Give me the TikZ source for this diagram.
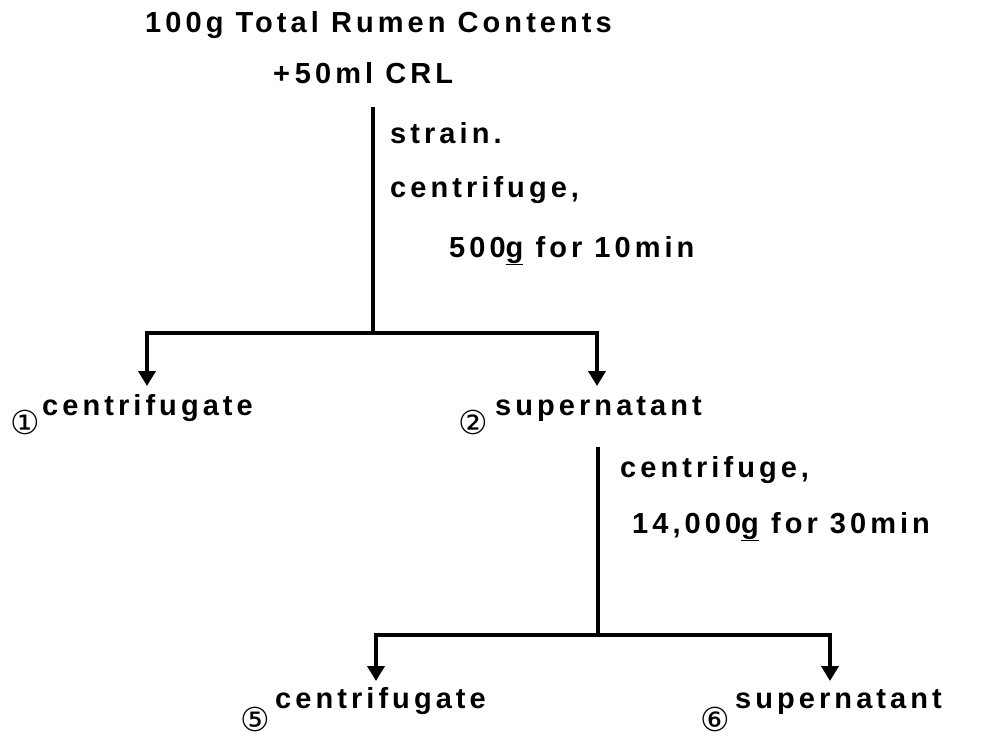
\documentclass[tikz,border=0pt]{standalone}
\usepackage{fontspec}
\setmainfont{Liberation Sans}
\newfontfamily\flowfont[LetterSpace=14]{Liberation Sans}
\newfontfamily\circfont{DejaVu Sans}
\usetikzlibrary{arrows.meta,positioning}
\tikzset{
	steptext/.style={
		anchor=base west, inner sep=0pt,
		font=\flowfont\bfseries\fontsize{29}{32}\selectfont
	},
	fraction/.style={
		inner sep=0pt, anchor=base,
		font=\circfont\fontsize{33}{36}\selectfont
	},
}

\begin{document}
\begin{tikzpicture}[
		x=1pt, y=-1pt,
		flow/.style={line width=4pt, line join=miter},
		down/.style={flow, -{Triangle[width=17pt,length=15pt]}}
		]
		\useasboundingbox (0,0) rectangle (983,739);
		
		% starting material
		\node[steptext] (sample) at (145,32) {100g Total Rumen Contents};
		\node[steptext] (crl) at (273,83) {+\,50ml CRL};
		
		% first spin
		\node[steptext] (strain) at (390,143) {strain.};
		\node[steptext] (spinA) at (390,197) {centrifuge,};
		\node[steptext] (spinAval) at (449,257) {500\underline{g} for 10min};
		
		\node[fraction] (n1) at (25,434) {①};
		\node[steptext] (cfgA) at (42,415) {centrifugate};
		\node[fraction] (n2) at (473,434) {②};
		\node[steptext] (supA) at (495,415) {supernatant};
		
		% second spin
		\node[steptext] (spinB) at (620,477) {centrifuge,};
		\node[steptext] (spinBval) at (632,533) {14,000\underline{g} for 30min};
		
		\node[fraction] (n5) at (255,731) {⑤};
		\node[steptext] (cfgB) at (275,708) {centrifugate};
		\node[fraction] (n6) at (715,731) {⑥};
		\node[steptext] (supB) at (735,708) {supernatant};
		
		\coordinate (topA) at (373,107);
		\coordinate (joinA) at (373,333);
		\coordinate (leftA) at (147,333);
		\coordinate (rightA) at (597,333);
		\coordinate (endA1) at (147,386);
		\coordinate (endA2) at (597,386);
		
		\coordinate (topB) at (598,447);
		\coordinate (joinB) at (598,635);
		\coordinate (leftB) at (376,635);
		\coordinate (rightB) at (830,635);
		\coordinate (endB1) at (376,681);
		\coordinate (endB2) at (830,681);
		
		\draw[flow] (topA) -- (joinA);
		\draw[down] (joinA) -- (leftA) -- (endA1);
		\draw[down] (joinA) -- (rightA) -- (endA2);
		
		\draw[flow] (topB) -- (joinB);
		\draw[down] (joinB) -- (leftB) -- (endB1);
		\draw[down] (joinB) -- (rightB) -- (endB2);
	\end{tikzpicture}
\end{document}
